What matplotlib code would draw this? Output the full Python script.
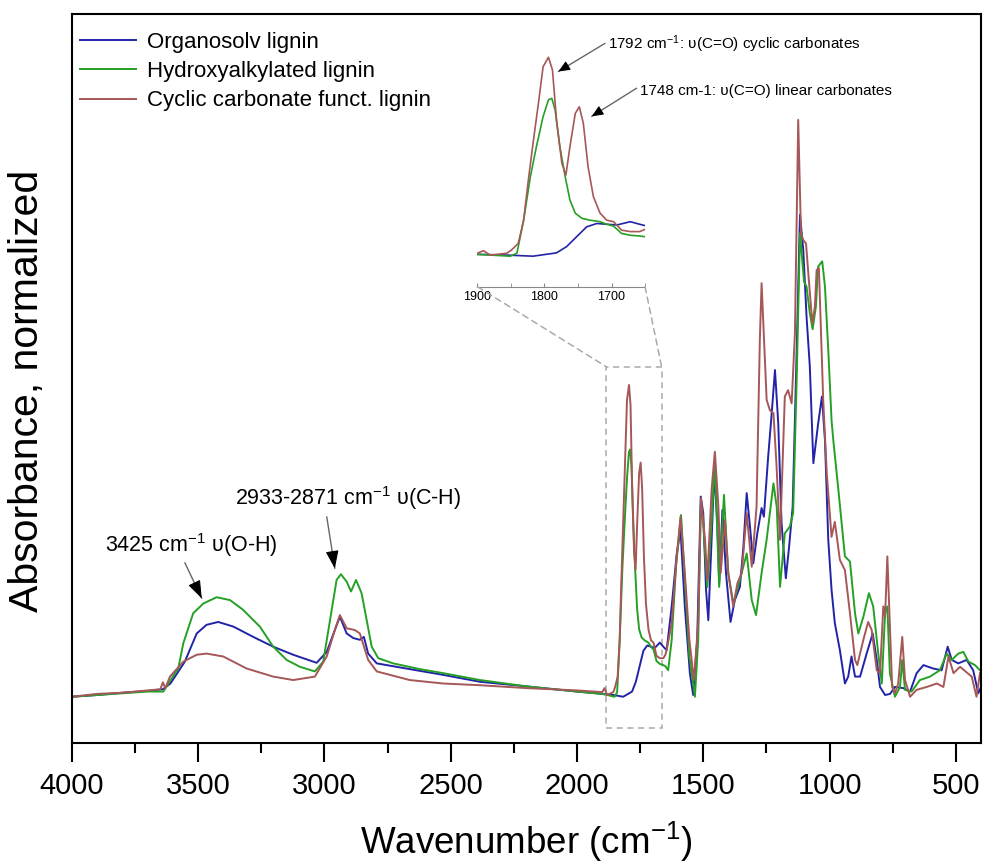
import matplotlib
matplotlib.use('Agg')
import matplotlib.pyplot as plt
from matplotlib.ticker import MultipleLocator
from matplotlib.patches import Rectangle, ConnectionPatch

plt.rcParams['mathtext.fontset'] = 'custom'
plt.rcParams['mathtext.rm'] = 'Liberation Sans'
plt.rcParams['mathtext.it'] = 'Liberation Sans:italic'
plt.rcParams['mathtext.bf'] = 'Liberation Sans:bold'
plt.rcParams['font.family'] = ['Liberation Sans', 'DejaVu Sans']

# ---------------- data ----------------
labels = ['Organosolv lignin', 'Hydroxyalkylated lignin', 'Cyclic carbonate funct. lignin']
colors = ['#2323a8', '#25a025', '#a65757']

wn_blue = [4000, 3900, 3800, 3700, 3640, 3610, 3592, 3553, 3506, 3467, 3421, 3361, 3282, 3203, 3124,
           3031, 2991, 2959, 2939, 2912, 2886, 2860, 2844, 2827, 2793, 2662, 2530, 2384, 2200, 2000,
           1900, 1856, 1817, 1782, 1767, 1752, 1737, 1722, 1707, 1692, 1672, 1658, 1645, 1625, 1605,
           1590, 1573, 1553, 1540, 1524, 1510, 1500, 1489, 1480, 1467, 1456, 1444, 1437, 1424, 1410,
           1392, 1375, 1355, 1341, 1328, 1315, 1302, 1286, 1269, 1260, 1243, 1230, 1216, 1203, 1190,
           1173, 1160, 1146, 1130, 1117, 1104, 1091, 1078, 1064, 1045, 1030, 1018, 1005, 992, 979,
           959, 939, 926, 913, 899, 879, 853, 829, 813, 800, 780, 760, 741, 708, 681, 655, 628, 589,
           556, 532, 516, 490, 457, 431, 411, 400]
abs_blue = [-0.003, 0.000, 0.004, 0.007, 0.010, 0.020, 0.032, 0.058, 0.107, 0.122, 0.127, 0.119, 0.101, 0.084, 0.070,
            0.056, 0.075, 0.113, 0.136, 0.107, 0.099, 0.096, 0.101, 0.072, 0.055, 0.045, 0.035, 0.023, 0.015, 0.006,
            0.002, 0.000, -0.003, 0.006, 0.023, 0.050, 0.077, 0.086, 0.084, 0.082, 0.091, 0.084, 0.078, 0.154, 0.246,
            0.287, 0.154, 0.038, 0.000, 0.096, 0.345, 0.316, 0.183, 0.130, 0.270, 0.391, 0.293, 0.194, 0.322, 0.212,
            0.127, 0.165, 0.188, 0.258, 0.351, 0.293, 0.229, 0.281, 0.325, 0.310, 0.414, 0.484, 0.565, 0.472, 0.299,
            0.203, 0.258, 0.327, 0.600, 0.835, 0.774, 0.658, 0.571, 0.403, 0.472, 0.519, 0.443, 0.270, 0.183, 0.125,
            0.078, 0.020, 0.032, 0.067, 0.032, 0.032, 0.072, 0.107, 0.061, 0.014, 0.000, 0.002, 0.014, 0.012, 0.006, 0.038, 0.052, 0.046,
            0.043, 0.084, 0.061, 0.055, 0.061, 0.043, 0.003, 0.014]

wn_green = [4000, 3900, 3800, 3700, 3638, 3592, 3579, 3559, 3520, 3480, 3427, 3374, 3322, 3256, 3203,
            3150, 3097, 3038, 3005, 2978, 2952, 2935, 2912, 2895, 2875, 2853, 2833, 2813, 2787, 2728,
            2622, 2530, 2384, 2200, 2000, 1900, 1851, 1841, 1831, 1821, 1812, 1802, 1794, 1789, 1784,
            1777, 1769, 1762, 1754, 1744, 1732, 1717, 1707, 1697, 1685, 1672, 1658, 1650, 1639, 1625,
            1608, 1588, 1573, 1555, 1533, 1520, 1510, 1500, 1495, 1484, 1467, 1454, 1437, 1418, 1401,
            1381, 1355, 1328, 1308, 1291, 1269, 1249, 1222, 1209, 1196, 1177, 1157, 1144, 1130, 1117,
            1101, 1091, 1078, 1067, 1054, 1045, 1029, 1018, 1005, 992, 985, 965, 939, 919, 899,
            886, 866, 844, 827, 807, 793, 780, 771, 761, 741, 721, 712, 701, 675, 642,
            602, 563, 536, 516, 490, 470, 450, 424, 404]
abs_green = [-0.003, 0.000, 0.003, 0.006, 0.006, 0.038, 0.046, 0.090, 0.142, 0.159, 0.170, 0.165, 0.148, 0.119, 0.084,
             0.061, 0.049, 0.041, 0.058, 0.130, 0.200, 0.210, 0.197, 0.180, 0.200, 0.177, 0.130, 0.084, 0.064, 0.055,
             0.045, 0.038, 0.026, 0.015, 0.006, 0.002, -0.003, 0.005, 0.095, 0.213, 0.295, 0.377, 0.423, 0.427, 0.395,
             0.295, 0.213, 0.150, 0.114, 0.100, 0.095, 0.091, 0.084, 0.079, 0.059, 0.054, 0.052, 0.050, 0.043, 0.096,
             0.223, 0.313, 0.200, 0.067, -0.003, 0.096, 0.330, 0.300, 0.260, 0.188, 0.300, 0.406, 0.188, 0.348, 0.212,
             0.159, 0.200, 0.246, 0.165, 0.139, 0.212, 0.270, 0.368, 0.327, 0.188, 0.281, 0.293, 0.316, 0.550, 0.803,
             0.719, 0.710, 0.664, 0.636, 0.675, 0.745, 0.754, 0.710, 0.600, 0.478, 0.443, 0.357, 0.241, 0.232, 0.142,
             0.107, 0.136, 0.177, 0.154, 0.072, 0.020, 0.142, 0.154, 0.038, -0.003, 0.014, 0.061, 0.009, 0.006, 0.026,
             0.032, 0.043, 0.072, 0.061, 0.072, 0.075, 0.058, 0.052, 0.043]

wn_brown = [4000, 3900, 3800, 3700, 3650, 3640, 3630, 3612, 3559, 3506, 3467, 3401, 3308, 3203, 3124,
            3038, 2991, 2959, 2939, 2912, 2880, 2860, 2827, 2793, 2662, 2530, 2384, 2200, 2000, 1900,
            1891, 1881, 1856, 1849, 1839, 1831, 1824, 1817, 1809, 1802, 1794, 1788, 1782, 1774, 1768,
            1762, 1754, 1748, 1742, 1735, 1727, 1717, 1707, 1697, 1685, 1672, 1658, 1650, 1645, 1625,
            1605, 1590, 1573, 1555, 1537, 1520, 1509, 1493, 1484, 1467, 1454, 1440, 1431, 1414, 1401,
            1381, 1365, 1348, 1328, 1308, 1289, 1276, 1269, 1249, 1236, 1222, 1210, 1196, 1177, 1164,
            1150, 1137, 1124, 1113, 1104, 1093, 1084, 1068, 1058, 1051, 1042, 1025, 1011, 992, 979,
            959, 939, 919, 899, 890, 866, 847, 833, 813, 800, 787, 780, 771, 761, 752,
            741, 728, 712, 701, 681, 655, 615, 575, 549, 529, 509, 483, 437, 418, 404]
abs_brown = [-0.003, 0.002, 0.004, 0.008, 0.010, 0.022, 0.012, 0.032, 0.058, 0.070, 0.072, 0.067, 0.046, 0.032, 0.026,
             0.032, 0.067, 0.113, 0.139, 0.116, 0.113, 0.107, 0.061, 0.041, 0.026, 0.020, 0.017, 0.012, 0.008, 0.005,
             0.012, 0.000, 0.005, 0.014, 0.032, 0.095, 0.204, 0.304, 0.413, 0.513, 0.539, 0.504, 0.368, 0.250, 0.218,
             0.295, 0.386, 0.404, 0.359, 0.241, 0.159, 0.114, 0.095, 0.091, 0.068, 0.064, 0.064, 0.070, 0.078, 0.125,
             0.241, 0.310, 0.212, 0.096, 0.026, 0.125, 0.342, 0.270, 0.200, 0.357, 0.423, 0.327, 0.212, 0.304, 0.212,
             0.154, 0.194, 0.212, 0.316, 0.223, 0.327, 0.617, 0.716, 0.513, 0.495, 0.490, 0.400, 0.270, 0.519, 0.530,
             0.507, 0.629, 1.000, 0.803, 0.791, 0.785, 0.733, 0.646, 0.675, 0.739, 0.742, 0.513, 0.386, 0.275, 0.301,
             0.235, 0.217, 0.142, 0.061, 0.052, 0.096, 0.127, 0.113, 0.043, 0.038, 0.154, 0.136, 0.241, 0.119, 0.014,
             0.003, 0.020, 0.101, 0.026, -0.003, 0.009, 0.014, 0.020, 0.014, 0.067, 0.038, 0.049, 0.032, -0.003, 0.038]

series = [(wn_blue, abs_blue), (wn_green, abs_green), (wn_brown, abs_brown)]

# ---------------- figure ----------------
fig = plt.figure(figsize=(9.83, 8.65), dpi=100)
ax = fig.add_axes([0.0732, 0.141, 0.9248, 0.8428])

for (x, y), c, lab in zip(series, colors, labels):
    ax.plot(x, y, color=c, lw=1.4, label=lab, solid_joinstyle='round')

ax.set_xlim(4000, 400)
ax.set_ylim(-0.0835, 1.184)
ax.set_yticks([])
ax.xaxis.set_major_locator(MultipleLocator(500))
ax.xaxis.set_minor_locator(MultipleLocator(250))
ax.tick_params(axis='x', which='major', direction='out', length=14, width=1.5, labelsize=21, pad=7)
ax.tick_params(axis='x', which='minor', direction='out', length=7, width=1.5)
for s in ax.spines.values():
    s.set_linewidth(1.5)

ax.set_xlabel('Wavenumber (cm$^{-1}$)', fontsize=26.5, labelpad=14)
ax.set_ylabel('Absorbance, normalized', fontsize=29.5)
ax.yaxis.set_label_coords(-0.029, 0.483)

ax.legend(loc='upper left', bbox_to_anchor=(0.004, 0.982), frameon=False, fontsize=16,
          handlelength=2.5, labelspacing=0.38, borderaxespad=0, borderpad=0.2, handletextpad=0.5)

# dashed zoom box
ax.add_patch(Rectangle((1885, -0.058), 1665 - 1885, 0.571 + 0.058, fill=False,
                       ec='#aaaaaa', ls=(0, (4, 3)), lw=1.1))

# inset
axi = fig.add_axes([0.4856, 0.6686, 0.1706, 0.2852])
axi.set_facecolor('none')
for (x, y), c in zip(series, colors):
    axi.plot(x, y, color=c, lw=1.2, solid_joinstyle='round')
axi.set_xlim(1900, 1650)
axi.set_ylim(-0.086, 0.586)
axi.set_yticks([])
for k in ['top', 'left', 'right']:
    axi.spines[k].set_visible(False)
axi.spines['bottom'].set_color('#888888')
axi.xaxis.set_major_locator(MultipleLocator(100))
axi.xaxis.set_minor_locator(MultipleLocator(50))
axi.tick_params(axis='x', which='both', direction='in', length=3, color='#888888', labelsize=9, pad=3)

for xa, xb in [(1900, 1885), (1650, 1665)]:
    con = ConnectionPatch(xyA=(xa, -0.086), coordsA=axi.transData,
                          xyB=(xb, 0.571), coordsB=ax.transData,
                          color='#aaaaaa', ls=(0, (4, 3)), lw=1.1)
    fig.add_artist(con)

# annotations
ax.text(3526, 0.261, '3425 cm$^{-1}$ υ(O-H)', ha='center', va='center', fontsize=15.5)
ax.text(2906, 0.343, '2933-2871 cm$^{-1}$ υ(C-H)', ha='center', va='center', fontsize=15.5)
ax.text(1878, 1.132, '1792 cm$^{-1}$: υ(C=O) cyclic carbonates', ha='left', va='center', fontsize=11)
ax.text(1751, 1.051, '1748 cm-1: υ(C=O) linear carbonates', ha='left', va='center', fontsize=11)


def arrow(tail, tip, frac, ms, hl, hw):
    ax.annotate('', xy=tip, xytext=tail,
                arrowprops=dict(arrowstyle='-', color='#666666', lw=1.0, shrinkA=0, shrinkB=0))
    hs = (tip[0] + (tail[0] - tip[0]) * frac, tip[1] + (tail[1] - tip[1]) * frac)
    ax.annotate('', xy=tip, xytext=hs,
                arrowprops=dict(arrowstyle=f'-|>,head_length={hl},head_width={hw}', color='black',
                                lw=0.8, shrinkA=0, shrinkB=0, mutation_scale=ms))


arrow((3553, 0.230), (3486, 0.168), 0.38, 20, 0.55, 0.2)
arrow((2991, 0.310), (2959, 0.220), 0.29, 20, 0.55, 0.2)
arrow((1889, 1.133), (2074, 1.084), 0.18, 10, 0.7, 0.3)
arrow((1764, 1.055), (1942, 1.006), 0.19, 10, 0.7, 0.3)

fig.savefig('out.png', dpi=100)
